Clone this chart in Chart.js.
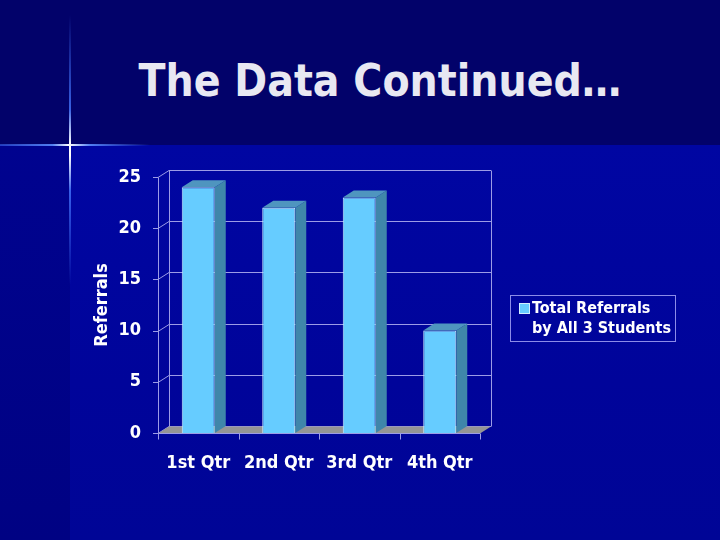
<!DOCTYPE html>
<html>
<head>
<meta charset="utf-8">
<script src="https://cdn.jsdelivr.net/npm/chart.js@4"></script>
<style>
  body { margin: 0; width: 720px; height: 540px; overflow: hidden; background: #02026a; position: relative;
         font-family: "DejaVu Sans Condensed", "DejaVu Sans", sans-serif; }
  .bas { position: absolute; top: 145px; left: 70px; right: 0; bottom: 0;
         background: linear-gradient(to bottom, #0006a2, #00049a 60%, #000596); }
  .esq { position: absolute; top: 145px; left: 0; width: 70px; bottom: 0;
         background: linear-gradient(to bottom, #00038f, #000283); }
  .vline { position: absolute; left: 69px; width: 2px; top: 15px; height: 270px;
           background: linear-gradient(to bottom, rgba(60,110,255,0), rgba(70,120,255,0.8) 35%, #ffffff 48%, #ffffff 52%, rgba(70,120,255,0.8) 65%, rgba(60,110,255,0)); }
  .hline { position: absolute; top: 144px; left: 0; width: 150px; height: 2px;
           background: linear-gradient(to right, rgba(70,120,255,0.5), rgba(90,140,255,0.9) 35%, #ffffff 46%, rgba(90,140,255,0.9) 60%, rgba(60,110,255,0)); }
  #titulo { position: absolute; top: 55px; left: 0; width: 760px; text-align: center;
            color: #e8e8f2; font-weight: bold; font-size: 44px; }
  #grafico { position: absolute; left: 0; top: 0; }
  #legenda { position: absolute; left: 510px; top: 295px; width: 164px; height: 45px;
             border: 1px solid #8c8ce8; color: #ffffff; font-weight: bold; font-size: 16px; line-height: 20px; }
  #legenda .quad { position: absolute; left: 8px; top: 7px; width: 9px; height: 9px;
                   background: #66ccff; border: 1px solid #d0eeff; }
  #legenda .txt { position: absolute; left: 21px; top: 2px; white-space: nowrap; }
</style>
</head>
<body>
<div class="bas"></div>
<div class="esq"></div>
<div class="vline"></div>
<div class="hline"></div>
<div id="titulo">The Data Continued…</div>
<canvas id="grafico" width="720" height="540"></canvas>
<div id="legenda"><div class="quad"></div><div class="txt" id="legTexto"></div></div>

<script>
// dados do grafico
const categorias = ['1st Qtr', '2nd Qtr', '3rd Qtr', '4th Qtr'];
const referrals = [24, 22, 23, 10];
const nomeSerie = ['Total Referrals', 'by All 3 Students'];
const ticksY = [0, 5, 10, 15, 20, 25];

document.getElementById('legTexto').innerHTML = nomeSerie.join('<br>');

// profundidade do efeito 3D
const DX = 11, DY = -7;
const corGrade = '#9c9ce6';

const efeito3D = {
    id: 'efeito3D',
    beforeDatasetsDraw(chart) {
        const ctx = chart.ctx;
        const a = chart.chartArea;
        const y = chart.scales.y;
        ctx.save();
        ctx.strokeStyle = corGrade;
        ctx.lineWidth = 1;

        // parede de tras + linhas de grade
        ticksY.forEach(v => {
            const py = Math.round(y.getPixelForValue(v)) + 0.5;
            ctx.beginPath();
            ctx.moveTo(a.left + DX, py + DY);
            ctx.lineTo(a.right + DX, py + DY);
            ctx.moveTo(a.left, py);
            ctx.lineTo(a.left + DX, py + DY);
            ctx.moveTo(a.left - 5, py);
            ctx.lineTo(a.left, py);
            ctx.stroke();
        });
        const topo = Math.round(y.getPixelForValue(25)) + 0.5;
        const base = Math.round(y.getPixelForValue(0)) + 0.5;
        ctx.beginPath();
        ctx.moveTo(a.left + DX + 0.5, topo + DY);
        ctx.lineTo(a.left + DX + 0.5, base + DY);
        ctx.moveTo(a.right + DX + 0.5, topo + DY);
        ctx.lineTo(a.right + DX + 0.5, base + DY);
        ctx.moveTo(a.left + 0.5, topo);
        ctx.lineTo(a.left + 0.5, base);
        ctx.stroke();

        // chao cinza
        ctx.fillStyle = '#959595';
        ctx.beginPath();
        ctx.moveTo(a.left, base);
        ctx.lineTo(a.right, base);
        ctx.lineTo(a.right + DX, base + DY);
        ctx.lineTo(a.left + DX, base + DY);
        ctx.closePath();
        ctx.fill();

        // linha da frente e marcas das categorias
        ctx.beginPath();
        ctx.moveTo(a.left, base);
        ctx.lineTo(a.right, base);
        const passo = (a.right - a.left) / categorias.length;
        for (let i = 0; i <= categorias.length; i++) {
            const px = Math.round(a.left + i * passo) + 0.5;
            ctx.moveTo(px, base);
            ctx.lineTo(px, base + 6);
        }
        ctx.stroke();
        ctx.restore();
    },
    afterDatasetsDraw(chart) {
        const ctx = chart.ctx;
        ctx.save();
        chart.getDatasetMeta(0).data.forEach(bar => {
            const esq = bar.x - bar.width / 2;
            const dir = bar.x + bar.width / 2;
            // lateral
            ctx.fillStyle = '#3f86aa';
            ctx.beginPath();
            ctx.moveTo(dir, bar.y);
            ctx.lineTo(dir + DX, bar.y + DY);
            ctx.lineTo(dir + DX, bar.base + DY);
            ctx.lineTo(dir, bar.base);
            ctx.closePath();
            ctx.fill();
            // topo
            ctx.fillStyle = '#4f95bf';
            ctx.beginPath();
            ctx.moveTo(esq, bar.y);
            ctx.lineTo(esq + DX, bar.y + DY);
            ctx.lineTo(dir + DX, bar.y + DY);
            ctx.lineTo(dir, bar.y);
            ctx.closePath();
            ctx.fill();
        });
        ctx.restore();
    }
};

const grafico = new Chart(document.getElementById('grafico'), {
    type: 'bar',
    data: {
        labels: categorias,
        datasets: [{
            label: nomeSerie.join(' '),
            data: referrals,
            backgroundColor: '#66ccff',
            borderColor: '#cdefff',
            borderWidth: 1,
            barPercentage: 0.41,
            categoryPercentage: 1
        }]
    },
    options: {
        responsive: false,
        animation: false,
        devicePixelRatio: 1,
        layout: {
            padding: { left: 88, right: 240, top: 177, bottom: 47 }
        },
        plugins: {
            legend: { display: false },
            tooltip: { enabled: false }
        },
        scales: {
            x: {
                grid: { display: false, drawTicks: false },
                border: { display: false },
                ticks: {
                    color: '#ffffff',
                    padding: 20,
                    font: { family: 'DejaVu Sans Condensed', weight: 'bold', size: 18 }
                },
                afterFit(scale) { scale.height = 60; }
            },
            y: {
                min: 0,
                max: 25,
                grid: { display: false, drawTicks: false },
                border: { display: false },
                ticks: {
                    stepSize: 5,
                    color: '#ffffff',
                    padding: 17,
                    font: { family: 'DejaVu Sans Condensed', weight: 'bold', size: 18 }
                },
                title: {
                    display: true,
                    text: 'Referrals',
                    color: '#ffffff',
                    padding: { top: 4, bottom: 0 },
                    font: { family: 'DejaVu Sans Condensed', weight: 'bold', size: 18 }
                },
                afterFit(scale) { scale.width = 70; }
            }
        }
    },
    plugins: [efeito3D]
});
</script>
</body>
</html>
